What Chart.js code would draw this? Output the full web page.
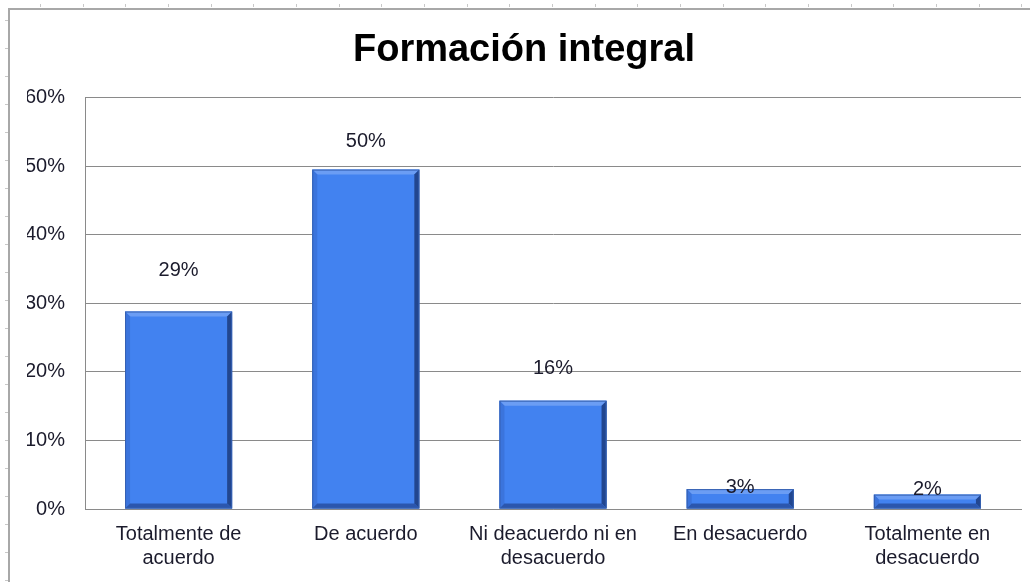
<!DOCTYPE html>
<html>
<head>
<meta charset="utf-8">
<script src="https://cdn.jsdelivr.net/npm/chart.js@4/dist/chart.umd.min.js"></script>
<style>
  html, body { margin: 0; padding: 0; background: #fff; }
  #wrap { width: 1030px; height: 582px; position: relative; }
</style>
</head>
<body>
<div id="wrap"><canvas id="c" width="1030" height="582"></canvas></div>
<script>
const titleText = 'Formación integral';
const categories = [
  ['Totalmente de', 'acuerdo'],
  ['De acuerdo'],
  ['Ni deacuerdo ni en', 'desacuerdo'],
  ['En desacuerdo'],
  ['Totalmente en', 'desacuerdo']
];
const values = [28.8, 49.5, 15.8, 2.9, 2.1];
const valueLabels = ['29%', '50%', '16%', '3%', '2%'];
const yTicksMax = 60;
const yTicksStep = 10;

const TEXT = '#1b1b2c';
const FONT = "'Liberation Sans', Arial, sans-serif";

// spreadsheet frame + small ruler ticks
const framePlugin = {
  id: 'frame',
  beforeDraw(chart) {
    const ctx = chart.ctx;
    ctx.save();
    ctx.fillStyle = '#fff';
    ctx.fillRect(0, 0, chart.width, chart.height);
    ctx.strokeStyle = '#c8c8c8';
    ctx.lineWidth = 1;
    for (let x = 40; x < chart.width; x += 42.67) {
      ctx.beginPath(); ctx.moveTo(Math.round(x) + 0.5, 4); ctx.lineTo(Math.round(x) + 0.5, 7); ctx.stroke();
    }
    for (let y = 20; y < chart.height; y += 28) {
      ctx.beginPath(); ctx.moveTo(5, Math.round(y) + 0.5); ctx.lineTo(8, Math.round(y) + 0.5); ctx.stroke();
    }
    ctx.strokeStyle = '#a8a8a8';
    ctx.lineWidth = 2;
    ctx.beginPath();
    ctx.moveTo(9, chart.height);
    ctx.lineTo(9, 9);
    ctx.lineTo(chart.width, 9);
    ctx.stroke();
    ctx.restore();
  }
};

// 3D bevel for bars + value labels
const bevelPlugin = {
  id: 'bevel',
  afterDatasetsDraw(chart, args, opts) {
    const ctx = chart.ctx;
    const meta = chart.getDatasetMeta(0);
    ctx.save();
    meta.data.forEach((bar, i) => {
      const p = bar.getProps(['x', 'y', 'base', 'width'], true);
      const l = p.x - p.width / 2, r = p.x + p.width / 2, t = p.y, b = p.base;
      const h = b - t;
      const bw = Math.min(5, h / 2);
      ctx.fillStyle = '#4282f0';
      ctx.fillRect(l, t, r - l, h);
      const poly = (pts, c) => {
        ctx.fillStyle = c; ctx.beginPath();
        ctx.moveTo(pts[0][0], pts[0][1]);
        for (let k = 1; k < pts.length; k++) ctx.lineTo(pts[k][0], pts[k][1]);
        ctx.closePath(); ctx.fill();
      };
      poly([[l, t], [r, t], [r - bw, t + bw], [l + bw, t + bw]], '#6b9df4');
      poly([[l, t], [l + bw, t + bw], [l + bw, b - bw], [l, b]], '#3b74dc');
      poly([[r, t], [r, b], [r - bw, b - bw], [r - bw, t + bw]], '#22468f');
      poly([[l, b], [l + bw, b - bw], [r - bw, b - bw], [r, b]], '#2b56ad');
      ctx.strokeStyle = '#3560b0';
      ctx.lineWidth = 1;
      ctx.strokeRect(l + 0.5, t + 0.5, r - l - 1, h - 1);
      // value label
      ctx.fillStyle = TEXT;
      ctx.font = '20px ' + FONT;
      ctx.textAlign = 'center';
      ctx.textBaseline = 'middle';
      ctx.fillText(valueLabels[i], p.x, t - opts.offsets[i]);
    });
    ctx.restore();
  }
};

new Chart(document.getElementById('c'), {
  type: 'bar',
  data: {
    labels: categories,
    datasets: [{
      data: values,
      backgroundColor: 'rgba(0,0,0,0)',
      borderWidth: 0,
      barPercentage: 0.572,
      categoryPercentage: 1.0
    }]
  },
  options: {
    responsive: false,
    animation: false,
    events: [],
    layout: { padding: { left: 27, right: 9, top: 0, bottom: 0 } },
    plugins: {
      legend: { display: false },
      tooltip: { enabled: false },
      title: {
        display: true,
        text: titleText,
        color: '#000',
        font: { family: FONT, size: 38, weight: 'bold', lineHeight: 1.2 },
        padding: { top: 28, bottom: 24 }
      },
      bevel: { offsets: [41, 28, 32, 2, 5] }
    },
    scales: {
      x: {
        grid: { display: false, drawTicks: false },
        border: { display: true, color: '#8a8a8a', width: 1 },
        ticks: {
          color: TEXT,
          font: { family: FONT, size: 20, lineHeight: 1.2 },
          padding: 13,
          maxRotation: 0,
          autoSkip: false
        },
        afterFit(scale) { scale.height = 73; }
      },
      y: {
        min: 0,
        max: yTicksMax,
        grid: { color: '#8a8a8a', lineWidth: 1, drawTicks: false },
        border: { display: true, color: '#8a8a8a', width: 1 },
        ticks: {
          stepSize: yTicksStep,
          color: TEXT,
          font: { family: FONT, size: 20 },
          padding: 20,
          callback: v => v + '%'
        },
        afterFit(scale) { scale.width = 58; }
      }
    }
  },
  plugins: [framePlugin, bevelPlugin]
});
</script>
</body>
</html>
